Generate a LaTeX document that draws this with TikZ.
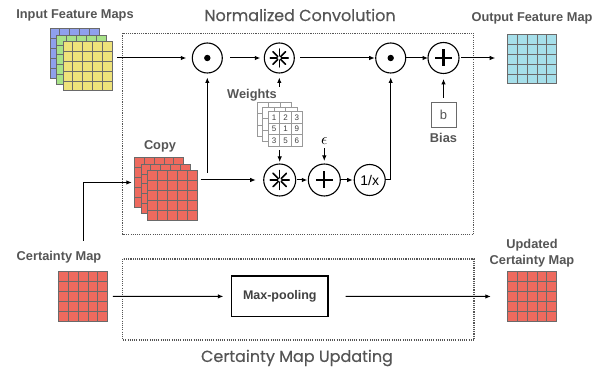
\documentclass[tikz,border=0pt]{standalone}
\usepackage{fontspec}
\setmainfont{Liberation Sans}
\newfontfamily\titlefont[FakeBold=0.4]{Poppins}
\usetikzlibrary{arrows.meta,calc}
\definecolor{labelgray}{HTML}{555555}
\definecolor{gridgray}{HTML}{6A6A6A}
\definecolor{framegray}{HTML}{555555}
\definecolor{mblue}{HTML}{8FA0EC}
\definecolor{mgreen}{HTML}{A8E288}
\definecolor{myellow}{HTML}{EEE27A}
\definecolor{mred}{HTML}{EE6A5E}
\definecolor{mcyan}{HTML}{A6DFEA}
\newcommand\fmap[5]{%
  \node[mapbox, fill=#5, minimum size=#4pt, anchor=north west] (#1) at (#2,#3) {};
  \foreach \k in {1,2,3,4}{%
    \draw[gridln] ($(#1.north west)!\k/5!(#1.north east)$) -- ($(#1.south west)!\k/5!(#1.south east)$);
    \draw[gridln] ($(#1.north west)!\k/5!(#1.south west)$) -- ($(#1.north east)!\k/5!(#1.south east)$);
  }%
}
\newcommand\wmap[3]{%
  \node[wbox, anchor=north west] (#1) at (#2,#3) {};
  \foreach \k in {1,2}{%
    \draw[wln] ($(#1.north west)!\k/3!(#1.north east)$) -- ($(#1.south west)!\k/3!(#1.south east)$);
    \draw[wln] ($(#1.north west)!\k/3!(#1.south west)$) -- ($(#1.north east)!\k/3!(#1.south east)$);
  }%
}
\newcommand\wdigits[1]{%
  \foreach \v [count=\i from 0] in {1,2,3,5,1,9,3,5,6}{%
    \pgfmathtruncatemacro\cc{mod(\i,3)}%
    \pgfmathtruncatemacro\rr{div(\i,3)}%
    \node[wdigit] at ($(#1.north west)+(5.73+11.47*\cc,5.73+11.47*\rr)$) {\v};
  }%
}
\begin{document}
\begin{tikzpicture}[x=1pt,y=-1pt,
  lbl/.style={font=\fontsize{12.8}{15.7}\selectfont\bfseries, text=labelgray, inner sep=0},
  ttl/.style={font=\titlefont\fontsize{16}{18}\selectfont, text=labelgray, inner sep=0},
  mapbox/.style={draw=gridgray, line width=1pt, inner sep=0, outer sep=0},
  gridln/.style={draw=gridgray, line width=1pt},
  wbox/.style={draw=gray!80, fill=white, line width=0.8pt, inner sep=0, outer sep=0, minimum size=34.4pt},
  wln/.style={draw=gray!80, line width=0.8pt},
  wdigit/.style={font=\fontsize{8}{8}\selectfont, text=black!75, inner sep=0},
  op/.style={circle, draw, line width=1.1pt, inner sep=0, outer sep=0, minimum size=30pt},
  conn/.style={line width=1pt, -{Latex[length=5.5pt,width=4.5pt]}},
  frame/.style={draw=framegray, line width=1.1pt, dash pattern=on 1.1pt off 1.1pt},
]
\useasboundingbox (0,0) rectangle (608,371);

% frames
\draw[frame] (122.7,33.3) rectangle (473.5,234.5);
\draw[frame] (122.7,259) rectangle (474,340);

% labels and titles
\node[lbl] (inlbl) at (75,15) {Input Feature Maps};
\node[ttl] (nctitle) at (300,15) {Normalized Convolution};
\node[lbl] (outlbl) at (532,18) {Output Feature Map};
\node[lbl] (copylbl) at (160,146) {Copy};
\node[lbl] (wlbl) at (252,95) {Weights};
\node[lbl] (biaslbl) at (443.5,138) {Bias};
\node[lbl] (cmlbl) at (59,257) {Certainty Map};
\node[lbl, align=center] (uclbl) at (532,253) {Updated\\Certainty Map};
\node[ttl] (cmutitle) at (297,358) {Certainty Map Updating};

% feature maps
\fmap{in1}{50}{29}{49.5}{mblue}
\fmap{in2}{56.5}{35.2}{49.5}{mgreen}
\fmap{in3}{63}{41.5}{49.5}{myellow}
\fmap{cp1}{134.3}{157.7}{49.5}{mred}
\fmap{cp2}{141}{164.2}{49.5}{mred}
\fmap{cp3}{147.6}{170.7}{49.5}{mred}
\fmap{cm}{58.3}{271.7}{49.5}{mred}
\fmap{ucm}{507.3}{271.7}{49.5}{mred}
\fmap{out}{507.7}{35}{49}{mcyan}

% weights
\wmap{w1}{257.3}{102.3}
\wmap{w2}{262.8}{107}
\wmap{w3}{268.3}{111.7}
\wdigits{w3}

% operators, top row
\node[op] (c1) at (207.3,58) {};
\node[op] (c2) at (279.3,58) {};
\node[op] (c3) at (390.7,58) {};
\node[op, minimum size=31pt] (c4) at (443.5,58) {};
% operators, bottom row
\node[op, minimum size=32pt] (d1) at (279.7,180) {};
\node[op, minimum size=32pt] (d2) at (324.3,180) {};
\node[op, minimum size=31pt, font=\fontsize{14}{14}\selectfont] (d3) at (369.7,180) {1/x};

% symbols
\fill (c1) circle (3.2pt);
\fill (c3) circle (3.2pt);
\foreach \a in {0,45,90,135}{
  \draw[line width=1.5pt, line cap=round] ($(c2)+(\a:2pt)$) -- ($(c2)+(\a:9pt)$);
  \draw[line width=1.5pt, line cap=round] ($(c2)+(\a+180:2pt)$) -- ($(c2)+(\a+180:9pt)$);
  \draw[line width=1.5pt, line cap=round] ($(d1)+(\a:2pt)$) -- ($(d1)+(\a:9.5pt)$);
  \draw[line width=1.5pt, line cap=round] ($(d1)+(\a+180:2pt)$) -- ($(d1)+(\a+180:9.5pt)$);
}
\draw[line width=2.3pt] ($(c4)+(-8.5,0)$) -- ($(c4)+(8.5,0)$);
\draw[line width=2.3pt] ($(c4)+(0,-8.5)$) -- ($(c4)+(0,8.5)$);
\draw[line width=2.3pt] ($(d2)+(-8.5,0)$) -- ($(d2)+(8.5,0)$);
\draw[line width=2.3pt] ($(d2)+(0,-8.5)$) -- ($(d2)+(0,8.5)$);

% bias, epsilon, max-pooling
\node[draw=gridgray, line width=0.9pt, minimum size=25pt, inner sep=0, font=\fontsize{13}{13}\selectfont, text=labelgray] (bias) at (443.5,115.2) {b};
\node[inner sep=1pt] (eps) at (324.3,141) {\scalebox{1.6}{$\epsilon$}};
\node[draw, line width=1.2pt, minimum width=96.3pt, minimum height=40.7pt, inner sep=0, font=\fontsize{12.5}{12.5}\selectfont\bfseries, text=black!75] (mp) at (279.8,296.4) {Max-pooling};

% connectors
\draw[conn, shorten <=4.5pt, shorten >=6pt] (in3.east |- c1) -- (c1);
\draw[conn, shorten <=8pt, shorten >=4pt] (c1) -- (c2);
\draw[conn, shorten <=6pt, shorten >=1pt] (c2) -- (c3);
\draw[conn] (c3) -- (c4);
\draw[conn, shorten <=2pt, shorten >=12.5pt] (c4) -- (out.west |- c4);
\draw[conn, shorten <=4.5pt, shorten >=5.5pt] (bias.north) -- (c4.south);
\draw[conn, shorten <=2pt, shorten >=4.5pt] (c2 |- wlbl.north) -- (c2.south);
\draw[conn, shorten <=3.5pt, shorten >=8pt] (cp3.east |- d1) -- (d1);
\coordinate (tap) at (207.3,173);
\draw[conn, shorten >=4.5pt] (tap) -- (c1.south);
\draw[conn, shorten <=4pt, shorten >=2pt] (d1 |- w3.south) -- (d1.north);
\draw[conn, shorten <=2.5pt, shorten >=3pt] (eps) -- (d2);
\draw[conn, shorten <=1pt, shorten >=1pt] (d1) -- (d2);
\draw[conn, shorten <=1pt, shorten >=1.5pt] (d2) -- (d3);
\draw[conn, shorten >=4.5pt] (d3.east) -- (c3 |- d3) -- (c3.south);
\coordinate (cmtap) at (83,241);
\draw[conn, shorten >=2.5pt] (cmtap) |- (cp1.west);
\draw[conn, shorten <=5pt, shorten >=7.7pt] (cm.east) -- (mp.west);
\draw[conn, shorten <=17pt, shorten >=16.5pt] (mp.east) -- (ucm.west);
\end{tikzpicture}
\end{document}
